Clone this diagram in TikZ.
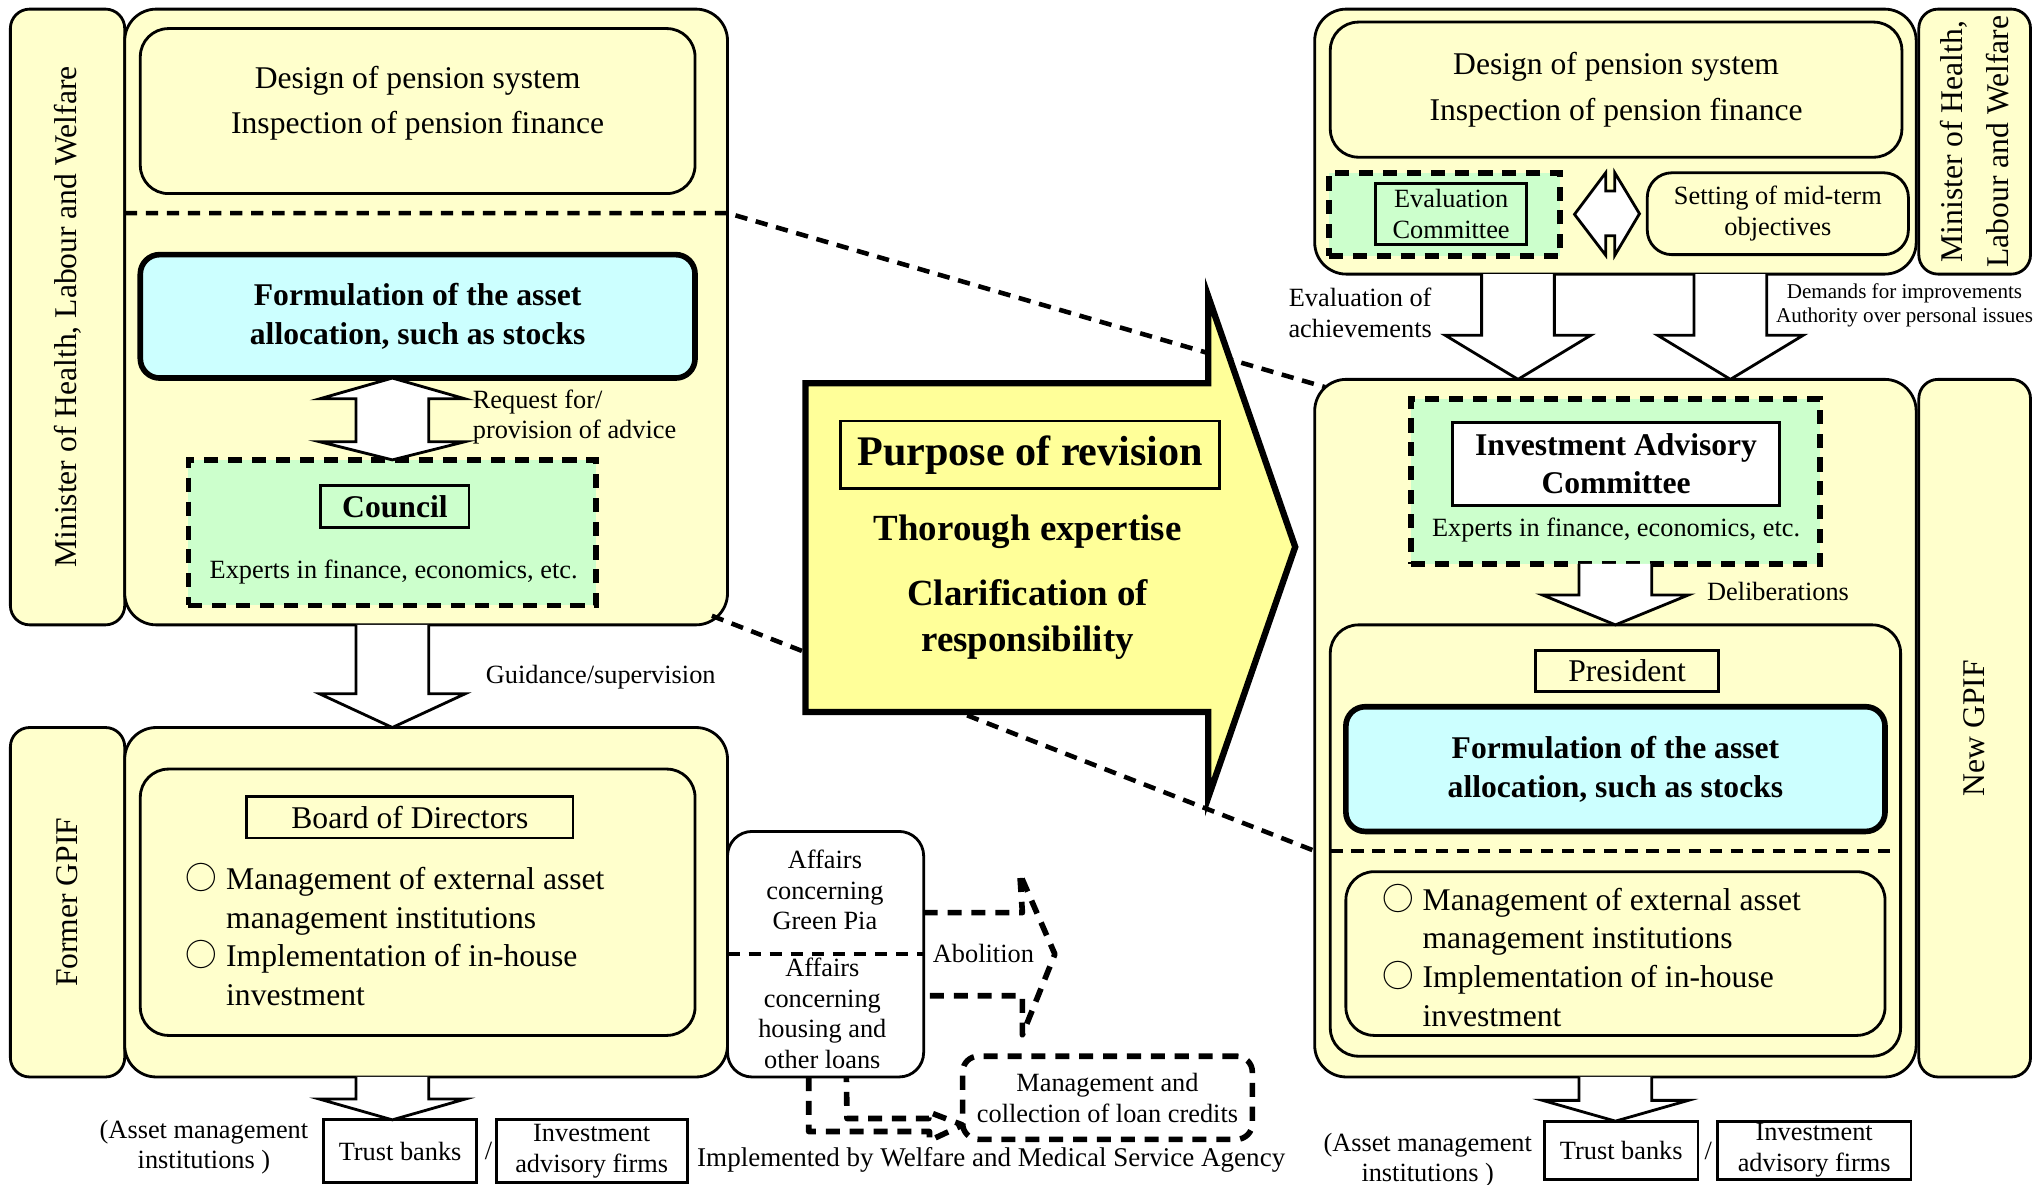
\documentclass[tikz,border=0pt]{standalone}
\usepackage{fontspec}
\setmainfont{Liberation Serif}
\newfontfamily\cjkfont{Noto Sans CJK JP}
\usetikzlibrary{positioning,calc}
\definecolor{panelyellow}{HTML}{FFFFCC}
\definecolor{panelcyan}{HTML}{CCFFFF}
\definecolor{panelgreen}{HTML}{CCFFCC}
\definecolor{arrowyellow}{HTML}{FFFF99}
\newcommand{\downblock}[3]{%
  \draw[blockarrow] let \p1=(#1), \p2=(#2) in
    (\x1-0.364cm,\y1) -- (\x1-0.364cm,\y2+#3*0.013cm) -- (\x1-0.73cm,\y2+#3*0.013cm)
    -- (\x1,\y2) -- (\x1+0.73cm,\y2+#3*0.013cm) -- (\x1+0.364cm,\y2+#3*0.013cm) -- (\x1+0.364cm,\y1);}
\newcommand{\ring}{{\cjkfont ○}\hspace{2.5pt}}

\begin{document}
\begin{tikzpicture}[x=0.013cm,y=-0.013cm,line width=0.8pt,
    every node/.style={inner sep=0pt,outer sep=0pt,align=center},
    wh/.style 2 args={minimum width=#1*0.013cm,minimum height=#2*0.013cm},
    bigfont/.style={font=\fontsize{9}{12.9}\selectfont},
    mainfont/.style={font=\fontsize{9}{11}\selectfont},
    boldfont/.style={font=\fontsize{9}{11}\selectfont\bfseries},
    smallfont/.style={font=\fontsize{7.5}{8.8}\selectfont},
    tinyfont/.style={font=\fontsize{6}{6.8}\selectfont},
    panel/.style={draw,fill=panelyellow,rounded corners=9pt},
    sidebar/.style={draw,fill=panelyellow,rounded corners=5.5pt,rotate=90,bigfont},
    innerpanel/.style={draw,fill=panelyellow,rounded corners=8pt},
    allocbox/.style={draw,fill=panelcyan,rounded corners=5.5pt,line width=1.6pt,boldfont},
    expertbox/.style={draw,fill=panelgreen,line width=1.6pt,dash pattern=on 4pt off 2.8pt},
    titlebox/.style={draw,fill=panelyellow},
    plainbox/.style={draw,fill=white,smallfont},
    blockarrow/.style={draw,fill=white},
    sepline/.style={line width=1.3pt,dash pattern=on 3.5pt off 2.5pt},
    dashedarrow/.style={line width=1.6pt,dash pattern=on 4pt off 2.8pt,line join=round}]
\useasboundingbox (0,0) rectangle (1568,912);

\node[sidebar,wh={474}{88}] (minLlab) at (52,244) {Minister of Health, Labour and Welfare};
\node[panel,wh={464}{474}] (minL) at (328,244) {};
\node[innerpanel,wh={427}{127}] (designL) at (321.5,85.5) {};
\node[bigfont] (designLtext) at (321.5,79.5) {Design of pension system\\Inspection of pension finance};
\node[allocbox,wh={427}{95}] (formL) at (321.5,243.5) {Formulation of the asset\\allocation, such as stocks};
\node[expertbox,wh={314}{112}] (councilbg) at (302,410) {};
\node[titlebox,fill=panelgreen,wh={114}{32},boldfont] (council) at (304,390) {Council};
\node[smallfont] (expertsL) at (303,440) {Experts in finance, economics, etc.};
\node[smallfont,anchor=west,align=left] (adviceL) at (364,321) {Request for/\\provision of advice};
\node[smallfont,anchor=west] (guideL) at (374,521) {Guidance/supervision};

\node[sidebar,wh={269}{88}] (gpifLlab) at (52,694.5) {Former GPIF};
\node[panel,wh={464}{269}] (gpifL) at (328,694.5) {};
\node[innerpanel,wh={427}{205}] (gpifLin) at (321.5,694.5) {};
\node[titlebox,wh={251}{32},mainfont] (boardL) at (315.5,629) {Board of Directors};
\node[mainfont,anchor=west,align=left] (dutiesL) at (143,720) {\ring Management of external asset\\\phantom{\ring}management institutions\\\ring Implementation of in-house\\\phantom{\ring}investment};
\node[smallfont] (assetL) at (157,883) {(Asset management\\institutions )};
\node[plainbox,wh={118}{48}] (trustL) at (308,886) {Trust banks};
\node[smallfont] (slashL) at (376,886) {/};
\node[plainbox,wh={147}{48}] (advL) at (455.5,886) {Investment\\advisory firms};

\node[draw,fill=white,rounded corners=7pt,wh={151}{189}] (affairs) at (635.5,734.5) {};
\node[smallfont] (greenpia) at (635,685) {Affairs\\concerning\\Green Pia};
\node[smallfont] (housing) at (633,780) {Affairs\\concerning\\housing and\\other loans};
\node[smallfont] (abolish) at (757,734) {Abolition};
\node[draw,dashedarrow,fill=white,rounded corners=4.5pt,wh={223}{64},smallfont] (loancred) at (852.5,845) {Management and\\collection of loan credits};
\node[font=\fontsize{7.7}{9}\selectfont] (agency) at (763,893) {Implemented by Welfare and Medical Service Agency};

\node[panel,wh={463}{204}] (minR) at (1243.5,109) {};
\node[sidebar,wh={204}{86},font=\fontsize{9}{13.3}\selectfont] (minRlab) at (1520,109) {Minister of Health,\\Labour and Welfare};
\node[innerpanel,wh={440}{104},bigfont] (designR) at (1244,69) {Design of pension system\\Inspection of pension finance};
\node[expertbox,wh={178}{64}] (evalbg) at (1112,165) {};
\node[titlebox,fill=panelgreen,wh={116}{47},smallfont] (evalR) at (1117,164.5) {Evaluation\\Committee};
\node[draw,fill=panelyellow,rounded corners=7pt,wh={201}{63},smallfont] (midterm) at (1368.5,164.5) {Setting of mid-term\\objectives};
\node[smallfont] (evalnote) at (1047,241) {Evaluation of\\achievements};
\node[tinyfont] (demandnote) at (1466,235) {Demands for improvements\\Authority over personal issues};

\node[panel,wh={463}{537}] (gpifR) at (1243.5,560.5) {};
\node[sidebar,wh={537}{86}] (gpifRlab) at (1520,560.5) {New GPIF};
\node[expertbox,wh={315}{127}] (iacbg) at (1243.5,370.5) {};
\node[titlebox,fill=white,wh={252}{64},boldfont] (iac) at (1244,357) {Investment Advisory\\Committee};
\node[smallfont] (expertsR) at (1244,408) {Experts in finance, economics, etc.};
\node[innerpanel,wh={439}{332}] (presbox) at (1243.5,647) {};
\node[smallfont,anchor=west] (delib) at (1314,455) {Deliberations};
\node[titlebox,wh={141}{31},mainfont] (president) at (1252.5,516.5) {President};
\node[allocbox,wh={415}{96}] (formR) at (1243.5,592) {Formulation of the asset\\allocation, such as stocks};
\node[innerpanel,wh={415}{126}] (dutiesRbox) at (1243.5,734) {};
\node[mainfont,anchor=west,align=left] (dutiesR) at (1064,736) {\ring Management of external asset\\\phantom{\ring}management institutions\\\ring Implementation of in-house\\\phantom{\ring}investment};
\node[smallfont] (assetR) at (1099,893) {(Asset management\\institutions )};
\node[plainbox,wh={118}{45}] (trustR) at (1248,885.5) {Trust banks};
\node[smallfont] (slashR) at (1315,886) {/};
\node[plainbox,wh={149}{45}] (advR) at (1396.5,885.5) {Investment\\advisory firms};

\draw[blockarrow] (councilbg.north |- formL.south) -- ++(56,16) -- ++(-28,0) -- ++(0,33) -- ++(28,0) -- (councilbg.north) -- ++(-56,-14) -- ++(28,0) -- ++(0,-33) -- ++(-28,0) -- cycle;
\downblock{councilbg.south |- minL.south}{councilbg.south |- gpifL.north}{26}
\downblock{councilbg.south |- gpifL.south}{councilbg.south |- trustL.north}{16}
\draw[blockarrow] ($(evalbg.east)+(11,0)$) -- ++(24,-32) -- ++(0,14) -- ++(7,0) -- ++(0,-14) -- ($(midterm.west)+(-6,0)$) -- ++(-19,32) -- ++(0,-15) -- ++(-7,0) -- ++(0,15) -- cycle;
\downblock{$(minR.south)+(-75,0)$}{$(gpifR.north)+(-75,0)$}{34}
\downblock{$(minR.south)+(88.5,0)$}{$(gpifR.north)+(88.5,0)$}{34}
\downblock{iacbg.south}{presbox.north}{23}
\downblock{gpifR.south}{trustR.north}{16}

\draw[sepline] (affairs.west) -- (affairs.east);
\draw[dashedarrow] ($(affairs.east)+(0,-32)$) -- ++(76,0) -- ++(-2,-30) -- ($(affairs.east)+(101,0)$) -- ++(-25,62) -- ++(0,-30) -- ($(affairs.east)+(0,32)$);
\draw[dashedarrow] ($(affairs.south)+(-13,0)$) -- ++(0,42) -- ++(93,0) -- ++(0,7) -- ($(loancred.south west)+(0,-11)$) -- ++(-26,-10) -- ++(0,5) -- ++(-63,0) -- ($(affairs.south)+(16,0)$);

\coordinate (sepR) at (1024,655);
\draw[sepline] ($(minL.north west)+(0,157)$) -- ($(minL.north east)+(0,157)$) -- ($(gpifR.north west)+(8,6)$);
\draw[sepline] ($(minL.south east)+(-12,-7)$) -- (gpifR.west |- sepR);
\draw[sepline] (sepR) -- (presbox.east |- sepR);

\draw[fill=arrowyellow,line width=1.8pt] (620,295) -- (930,295) -- (930,228) -- (997,421) -- (930,614) -- (930,548) -- (620,548) -- cycle;
\node[titlebox,fill=arrowyellow,wh={292}{52},font=\fontsize{12}{14}\selectfont\bfseries] (purpose) at (793,350) {Purpose of revision};
\node[font=\fontsize{10.5}{13}\selectfont\bfseries] (expertise) at (791,409) {Thorough expertise};
\node[font=\fontsize{10.5}{13}\selectfont\bfseries] (clarify) at (791,477) {Clarification of\\responsibility};
\end{tikzpicture}
\end{document}
